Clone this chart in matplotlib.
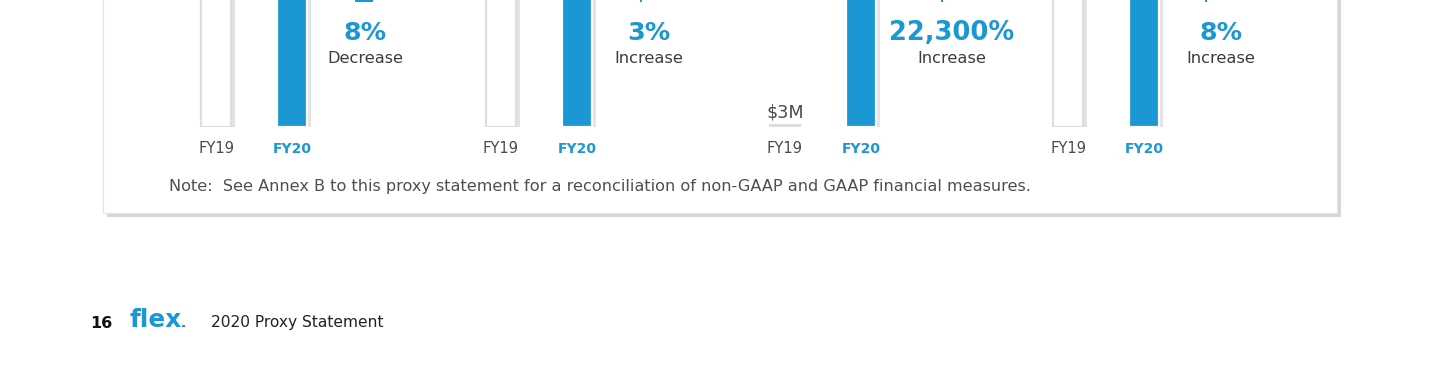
import matplotlib
matplotlib.use("Agg")
import matplotlib.pyplot as plt
import matplotlib.patheffects as pe
from matplotlib.patches import Rectangle

# ---------------- data ----------------
years = ["FY19", "FY20"]
revenue = [26.2, 24.2]            # $B
adj_op_income = [829, 851]        # $M
adj_fcf = [3, 672]                # $M
adj_eps = [1.01, 1.09]            # $
panels = [revenue, adj_op_income, adj_fcf, adj_eps]
pct_labels = ["8%", "3%", "22,300%", "8%"]
dir_labels = ["Decrease", "Increase", "Increase", "Increase"]
small_value_labels = [None, None, "$3M", None]
note = "Note:  See Annex B to this proxy statement for a reconciliation of non-GAAP and GAAP financial measures."
page_no = "16"
brand = "flex"
doc_title = "2020 Proxy Statement"

# ---------------- layout ----------------
W, H = 1440, 376
BLUE = "#1b97d4"
fig = plt.figure(figsize=(W / 100, H / 100), dpi=100)
fig.patch.set_facecolor("white")

def fx(x):
    return x / W

def fy(y):
    return 1 - y / H

renderer = fig.canvas.get_renderer()

def put(x, y, s, width=None, size=12, **kw):
    t = fig.text(fx(x), fy(y), s, fontsize=size, va="baseline", **kw)
    if width is not None:
        w = t.get_window_extent(renderer=renderer).width
        t.set_fontsize(size * width / w)
    return t

# card with shadow
card = Rectangle((fx(103), fy(213)), fx(1337) - fx(103), fy(-60) - fy(213),
                 transform=fig.transFigure, facecolor="white", edgecolor="#e4e4e4",
                 linewidth=0.8, zorder=0,
                 path_effects=[pe.SimplePatchShadow(offset=(3, -3), shadow_rgbFace="#000000", alpha=0.16),
                               pe.Normal()])
fig.add_artist(card)

fy19_centers = [216, 501, 785, 1068]
spacing = 76
pct_centers = [365, 649, 952, 1221]
stub_x = [(355, 373), (640, 642), (941, 943), (1205, 1207)]
bar_bottom = 127
axes_height = 420

for i, vals in enumerate(panels):
    left = fy19_centers[i] - spacing / 2
    ax = fig.add_axes([fx(left), fy(bar_bottom), (2 * spacing) / W, axes_height / H])
    ax.set_xlim(-0.5, 1.5)
    ax.set_ylim(0, max(vals) * 1.02)
    ax.axis("off")
    ax.patch.set_alpha(0)
    shadow = [pe.SimplePatchShadow(offset=(3, -2), shadow_rgbFace="#000000", alpha=0.11), pe.Normal()]
    b0 = ax.bar([0], [vals[0]], width=30 / spacing, color="white", edgecolor="#dedede",
                linewidth=1.6, zorder=2)
    b1 = ax.bar([1], [vals[1]], width=30 / spacing, color=BLUE, edgecolor="white",
                linewidth=1.6, zorder=2)
    for p in list(b0) + list(b1):
        p.set_path_effects(shadow)

    # axis labels
    put(fy19_centers[i], 153, years[0], width=36, size=10.5, ha="center", color="#4a4a4a")
    put(fy19_centers[i] + spacing, 153, years[1], width=39, size=10.5, ha="center",
        color=BLUE, fontweight="bold")
    if small_value_labels[i]:
        put(fy19_centers[i], 117, small_value_labels[i], width=38, size=12.5, ha="center",
            color="#4a4a4a")

    # change annotations
    pw = {"8%": 43, "3%": 43, "22,300%": 125}[pct_labels[i]]
    put(pct_centers[i], 40, pct_labels[i], width=pw, size=18, ha="center", color=BLUE,
        fontweight="bold")
    dw = 76 if dir_labels[i] == "Decrease" else 69
    put(pct_centers[i], 63, dir_labels[i], width=dw, size=11.6, ha="center", color="#3c3c3c")

    # remnant of arrow marks cut at the top edge
    x0, x1 = stub_x[i]
    fig.add_artist(Rectangle((fx(x0), fy(2)), fx(x1) - fx(x0), fy(0) - fy(2),
                             transform=fig.transFigure, facecolor=BLUE, edgecolor="none"))

put(169, 191, note, width=861, size=11, ha="left", color="#4f4f4f")

# footer
put(90, 328, page_no, size=11.5, ha="left", color="#111111", fontweight="bold")
put(129, 327, brand, width=52, size=18, ha="left", color=BLUE, fontweight="bold")
fig.add_artist(Rectangle((fx(182), fy(327)), fx(184.5) - fx(182), fy(324.5) - fy(327),
                         transform=fig.transFigure, facecolor=BLUE, edgecolor="none"))
put(211, 327, doc_title, width=173, size=12, ha="left", color="#222222")

fig.savefig("out.png", dpi=100, facecolor="white")
